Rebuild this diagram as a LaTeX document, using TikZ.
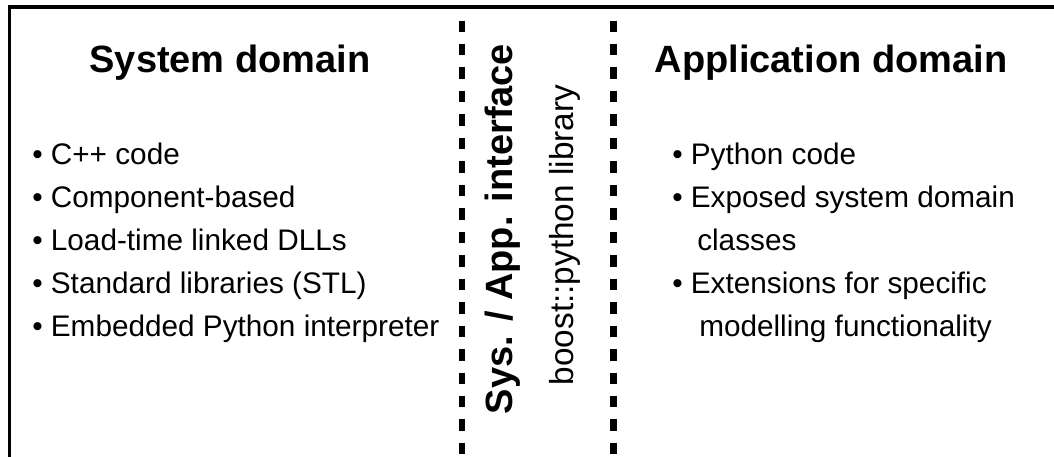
\documentclass[tikz,border=0pt]{standalone}
\usepackage{fontspec}
\setmainfont{Liberation Sans}
\begin{document}
\begin{tikzpicture}[x=0.75pt,y=-0.75pt,
  title/.style={font=\fontsize{28.5}{34}\selectfont\bfseries, anchor=base, inner sep=0pt},
  item/.style={font=\fontsize{22.3}{27}\selectfont, anchor=base west, inner sep=0pt},
  vbold/.style={font=\fontsize{28.5}{34}\selectfont\bfseries, anchor=base, rotate=90, inner sep=0pt},
  vreg/.style={font=\fontsize{25}{30}\selectfont, anchor=base, rotate=90, inner sep=0pt},
  border/.style={line width=2.4pt},
  divider/.style={line width=4.9pt, dash pattern=on 8.6pt off 9pt}]
\useasboundingbox (0,0) rectangle (1054,457);
\clip (0,0) rectangle (1054,457);
% frame
\coordinate (tl) at (9.5,7);
\coordinate (tr) at (1060,7);
\coordinate (bl) at (9.5,470);
\draw[border] (bl) -- (tl) -- (tr);
% dividers
\coordinate (d1t) at (462,20.5);
\coordinate (d1b) at (462,470);
\coordinate (d2t) at (613.5,20.5);
\coordinate (d2b) at (613.5,470);
\draw[divider] (d1t) -- (d1b);
\draw[divider] (d2t) -- (d2b);
% titles
\node[title] (sys) at (230,72) {System domain};
\node[title] (app) at (831,72) {Application domain};
% left items
\node[item] (l1) at (32,164) {• C++ code};
\node[item] (l2) at (32,207) {• Component-based};
\node[item] (l3) at (32,250) {• Load-time linked DLLs};
\node[item] (l4) at (32,293) {• Standard libraries (STL)};
\node[item] (l5) at (32,336) {• Embedded Python interpreter};
% right items
\node[item] (r1) at (672,164) {• Python code};
\node[item] (r2) at (672,207) {• Exposed system domain};
\node[item] (r3) at (697,250) {classes};
\node[item] (r4) at (672,293) {• Extensions for specific};
\node[item] (r5) at (699,336) {modelling functionality};
% vertical
\node[vbold] (iface) at (512,229) {Sys. / App. interface};
\node[vreg] (boost) at (573,235) {boost::python library};
\end{tikzpicture}
\end{document}
